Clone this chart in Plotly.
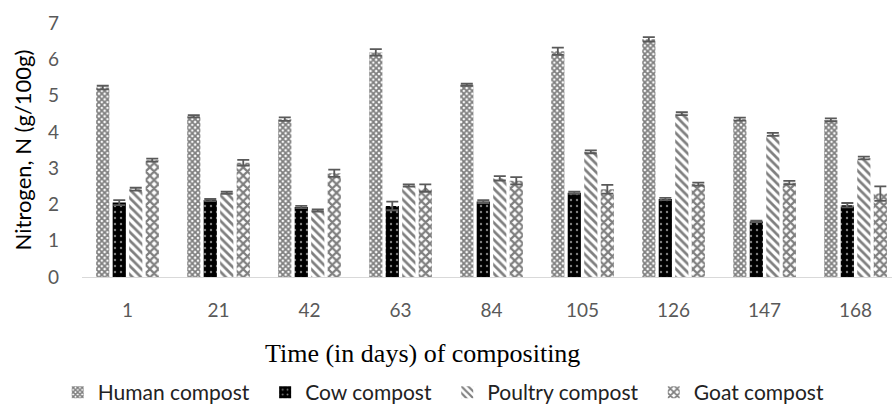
import plotly.graph_objects as go

days = ["1", "21", "42", "63", "84", "105", "126", "147", "168"]
human = [5.22, 4.43, 4.35, 6.19, 5.30, 6.22, 6.55, 4.35, 4.33]
cow = [2.05, 2.12, 1.93, 1.96, 2.08, 2.32, 2.15, 1.53, 1.98]
poultry = [2.42, 2.32, 1.83, 2.52, 2.72, 3.45, 4.50, 3.93, 3.28]
goat = [3.22, 3.15, 2.86, 2.45, 2.65, 2.42, 2.56, 2.60, 2.30]
human_err = [0.05, 0.03, 0.05, 0.09, 0.03, 0.10, 0.06, 0.04, 0.04]
cow_err = [0.07, 0.03, 0.03, 0.12, 0.04, 0.03, 0.03, 0.02, 0.06]
poultry_err = [0.04, 0.03, 0.03, 0.03, 0.06, 0.04, 0.04, 0.04, 0.04]
goat_err = [0.04, 0.08, 0.10, 0.10, 0.10, 0.12, 0.04, 0.05, 0.20]

pad = "\u00a0\u00a0"
series = [
    ("Human compost", human, human_err,
     dict(color="white", pattern=dict(shape="x", size=4, solidity=0.7, fgcolor="black", bgcolor="white"))),
    ("Cow compost", cow, cow_err,
     dict(color="black", pattern=dict(shape=".", size=6, solidity=0.12, fgcolor="white", bgcolor="black"))),
    ("Poultry compost", poultry, poultry_err,
     dict(color="white", pattern=dict(shape="\\", size=6, solidity=0.45, fgcolor="black", bgcolor="white"))),
    ("Goat compost", goat, goat_err,
     dict(color="white", pattern=dict(shape="x", size=6, solidity=0.6, fgcolor="black", bgcolor="white"))),
]

fig = go.Figure()
for name, vals, errs, mk in series:
    mk = dict(mk)
    mk["line"] = dict(width=0)
    fig.add_trace(go.Bar(
        name=name + pad, x=days, y=vals, marker=mk,
        error_y=dict(type="data", array=errs, visible=True, color="#595959", thickness=1.8, width=6),
    ))

fig.add_annotation(
    text="Time (in days) of compositing", xref="paper", yref="paper",
    x=0.42, y=-0.30, xanchor="center", yanchor="middle", showarrow=False,
    font=dict(family="Liberation Serif", size=26, color="black"),
)

fig.update_layout(
    width=892, height=413,
    margin=dict(l=82, r=0, t=23, b=133),
    paper_bgcolor="white", plot_bgcolor="white",
    barmode="group", bargap=0.275, bargroupgap=0.2,
    font=dict(family="Lato", color="#595959"),
    showlegend=True,
    legend=dict(orientation="h", x=-0.03, xanchor="left", y=-0.455, yanchor="middle",
                font=dict(family="Lato", size=21, color="#222222"), traceorder="normal"),
    xaxis=dict(
        range=[-0.5, 8.4], showgrid=False, showline=True, linecolor="#d9d9d9", linewidth=1,
        ticks="", tickfont=dict(size=19, color="#595959"), ticklabelstandoff=16,
    ),
    yaxis=dict(
        range=[0, 7], dtick=1, showgrid=False, showline=False, zeroline=False,
        ticks="", tickfont=dict(size=19, color="#595959"), ticklabelstandoff=22,
        title=dict(text="Nitrogen, N (g/100g)", standoff=10,
                   font=dict(family="Lato", size=22, color="black")),
    ),
)

fig.write_html("out.html")
